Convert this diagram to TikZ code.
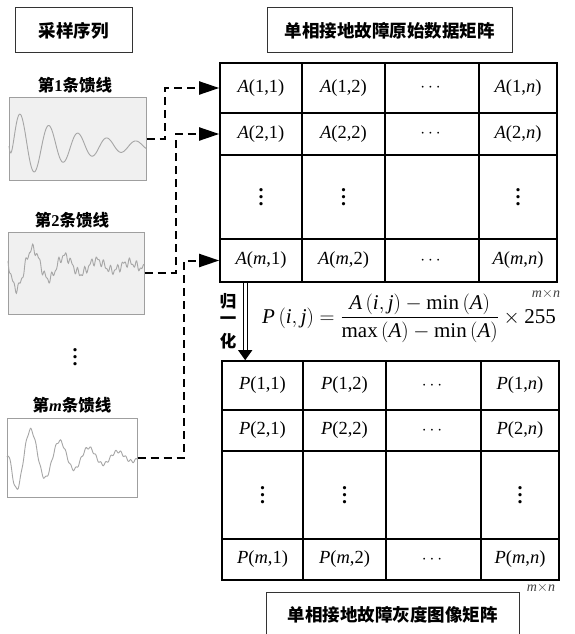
\documentclass[tikz,border=0pt]{standalone}
\usepackage{fontspec}
\usepackage{amsmath}
\setmainfont{Liberation Serif}
\newfontfamily\cjk{Noto Sans CJK SC}
\usetikzlibrary{arrows.meta}
\newcommand{\tallvdots}{\vbox{\baselineskip=7pt\lineskiplimit=0pt\hbox{.}\hbox{.}\hbox{.}}}

\begin{document}
\begin{tikzpicture}[
    x=1pt, y=-1pt,
    titlebox/.style={rectangle, draw=black!80, line width=1pt, minimum height=45pt, font=\cjk\bfseries\fontsize{17.5}{20}\selectfont},
    cell/.style 2 args={rectangle, draw, line width=1.6pt, minimum width=#1pt, minimum height=#2pt, inner sep=0pt, font=\fontsize{18.5}{21}\selectfont},
    sigbox/.style 2 args={rectangle, draw=gray!75, fill=gray!12, line width=1pt, minimum width=#1pt, minimum height=#2pt},
    feedlabel/.style={font=\cjk\bfseries\fontsize{16.5}{19}\selectfont},
    wave/.style={gray!70, line width=0.9pt},
    feed/.style={-{Triangle[length=20pt,width=13pt]}, line width=2pt, dash pattern=on 8pt off 5pt},
    normarrow/.style={double, double distance=3pt, line width=1.2pt, -{Triangle[length=10pt,width=14pt]}},
    formula/.style={font=\fontsize{21}{25}\selectfont},
    dims/.style={font=\fontsize{14}{16}\selectfont, text=black!75},
    vdot/.style={font=\bfseries\fontsize{20}{22}\selectfont}
]
    \clip (0,0) rectangle (575,634);

    % Titles
    \node[titlebox, minimum width=117pt] (sampling) at (73.5,30.5) {采样序列};
    \node[titlebox, minimum width=245pt] (rawtitle) at (389.5,30.5) {单相接地故障原始数据矩阵};
    \node[titlebox, minimum width=253pt, minimum height=46pt] (graytitle) at (392.5,615) {单相接地故障灰度图像矩阵};

    % Feeders
    \node[feedlabel] (label1) at (75,85) {第{\rmfamily 1}条馈线};
    \node[sigbox={137}{83}] (feeder1) at (77.5,138.5) {};
    \node[feedlabel] (label2) at (72,220) {第{\rmfamily 2}条馈线};
    \node[sigbox={136}{82}] (feeder2) at (76,273) {};
    \node[vdot] (fdots) at (75,357) {\tallvdots};
    \node[feedlabel] (labelm) at (72,405) {第{\rmfamily\itshape m}条馈线};
    \node[sigbox={130}{79}, fill=white] (feederm) at (72,457.5) {};

    % Waveforms
    \begin{scope}
        \clip (feeder1.south west) rectangle (feeder1.north east);
        \draw[wave] plot[domain=0:137, samples=220] ({9+\x}, {146-39*exp(-\x/62)*(1-exp(-\x/3))*cos(12.414*(\x-11))});
    \end{scope}
    \begin{scope}
        \clip (feeder2.south west) rectangle (feeder2.north east);
        \draw[wave] plot[domain=0:136, samples=260] ({8+\x}, {266-26*exp(-\x/60)*cos(11.25*(\x-25))+3*sin(55.38*\x)+2*sin(97.3*\x)});
    \end{scope}
    \begin{scope}
        \clip (feederm.south west) rectangle (feederm.north east);
        \draw[wave] plot[domain=0:130, samples=220] ({7+\x}, {457-42*exp(-\x/55)*(1-exp(-\x/4))*cos(12.414*(\x-24))+1.5*sin(72*\x)});
    \end{scope}

    % Original matrix
    \node[cell={82}{50}] (a11) at (261,88) {\textit{A}(1,1)};
    \node[cell={83}{50}] (a12) at (343.5,88) {\textit{A}(1,2)};
    \node[cell={94}{50}] (a1d) at (432,88) {$\cdots$};
    \node[cell={78}{50}] (a1n) at (518,88) {\textit{A}(1,\textit{n})};
    \node[cell={82}{42}] (a21) at (261,134) {\textit{A}(2,1)};
    \node[cell={83}{42}] (a22) at (343.5,134) {\textit{A}(2,2)};
    \node[cell={94}{42}] (a2d) at (432,134) {$\cdots$};
    \node[cell={78}{42}] (a2n) at (518,134) {\textit{A}(2,\textit{n})};
    \node[cell={82}{84}, vdot] (av1) at (261,197) {\tallvdots};
    \node[cell={83}{84}, vdot] (av2) at (343.5,197) {\tallvdots};
    \node[cell={94}{84}] (avd) at (432,197) {};
    \node[cell={78}{84}, vdot] (avn) at (518,197) {\tallvdots};
    \node[cell={82}{43}] (am1) at (261,260.5) {\textit{A}(\textit{m},1)};
    \node[cell={83}{43}] (am2) at (343.5,260.5) {\textit{A}(\textit{m},2)};
    \node[cell={94}{43}] (amd) at (432,260.5) {$\cdots$};
    \node[cell={78}{43}] (amn) at (518,260.5) {\textit{A}(\textit{m},\textit{n})};
    \node[dims] (adim) at (546,294) {\textit{m}$\times$\textit{n}};

    % Normalization
    \node[feedlabel] (gui) at (228,301) {归};
    \node[feedlabel] (yi) at (228,321) {一};
    \node[feedlabel] (hua) at (228,341) {化};
    \node[formula] (normeq) at (409,318) {$\textit{P}\left(\textit{i}, \textit{j}\right)=\dfrac{\textit{A}\left(\textit{i}, \textit{j}\right)-\text{min}\left(\textit{A}\right)}{\text{max}\left(\textit{A}\right)-\text{min}\left(\textit{A}\right)}\times\text{255}$};

    % Gray image matrix
    \node[cell={81}{49}] (p11) at (262.5,385.5) {\textit{P}(1,1)};
    \node[cell={83}{49}] (p12) at (344.5,385.5) {\textit{P}(1,2)};
    \node[cell={95}{49}] (p1d) at (433.5,385.5) {$\cdots$};
    \node[cell={78}{49}] (p1n) at (520,385.5) {\textit{P}(1,\textit{n})};
    \node[cell={81}{41}] (p21) at (262.5,430.5) {\textit{P}(2,1)};
    \node[cell={83}{41}] (p22) at (344.5,430.5) {\textit{P}(2,2)};
    \node[cell={95}{41}] (p2d) at (433.5,430.5) {$\cdots$};
    \node[cell={78}{41}] (p2n) at (520,430.5) {\textit{P}(2,\textit{n})};
    \node[cell={81}{88}, vdot] (pv1) at (262.5,495) {\tallvdots};
    \node[cell={83}{88}, vdot] (pv2) at (344.5,495) {\tallvdots};
    \node[cell={95}{88}] (pvd) at (433.5,495) {};
    \node[cell={78}{88}, vdot] (pvn) at (520,495) {\tallvdots};
    \node[cell={81}{41}] (pm1) at (262.5,559.5) {\textit{P}(\textit{m},1)};
    \node[cell={83}{41}] (pm2) at (344.5,559.5) {\textit{P}(\textit{m},2)};
    \node[cell={95}{41}] (pmd) at (433.5,559.5) {$\cdots$};
    \node[cell={78}{41}] (pmn) at (520,559.5) {\textit{P}(\textit{m},\textit{n})};
    \node[dims] (pdim) at (541,588) {\textit{m}$\times$\textit{n}};

    % Connections
    \draw[feed] (feeder1.east) -- ++(18,0) |- (a11.west);
    \draw[feed] (feeder2.east) -- ++(31,0) |- (a21.west);
    \draw[feed] (feederm.east) -- ++(46,0) |- (am1.west);
    \draw[normarrow] ([xshift=26pt]am1.south west) -- ([xshift=24pt]p11.north west);
\end{tikzpicture}
\end{document}
